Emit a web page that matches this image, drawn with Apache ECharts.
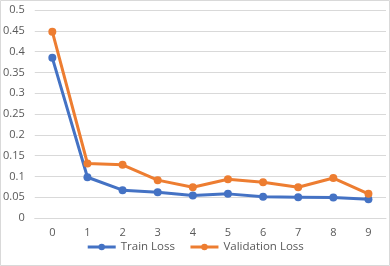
<!DOCTYPE html>
<html><head><meta charset="utf-8">
<script src="https://cdn.jsdelivr.net/npm/echarts@6/dist/echarts.min.js"></script>
<style>html,body{margin:0;padding:0;background:#fff}#c{width:390px;height:266px}</style>
</head><body><div id="c"></div>
<script>
const categories = ['0','1','2','3','4','5','6','7','8','9'];
const trainLoss = [0.385, 0.098, 0.067, 0.062, 0.054, 0.058, 0.051, 0.050, 0.049, 0.045];
const valLoss = [0.448, 0.131, 0.128, 0.091, 0.074, 0.093, 0.086, 0.074, 0.096, 0.058];
const chart = echarts.init(document.getElementById('c'));
const font = 'Open Sans, Liberation Sans, sans-serif';
chart.setOption({
  animation: false,
  graphic: [{type:'rect', shape:{x:0.5,y:0.5,width:389,height:265}, style:{fill:null, stroke:'#d9d9d9', lineWidth:1}}],
  grid: {left: 34, right: 4, top: 10, bottom: 48},
  legend: {
    bottom: 8, left: 'center', itemWidth: 28, itemHeight: 8, itemGap: 14,
    lineStyle: {width: 3},
    textStyle: {color: '#595959', fontSize: 11.5, fontFamily: font},
    data: ['Train Loss', 'Validation Loss']
  },
  xAxis: {
    type: 'category', data: categories, boundaryGap: true,
    axisLine: {lineStyle: {color: '#d9d9d9'}}, axisTick: {show: false},
    axisLabel: {color: '#595959', fontSize: 11, fontFamily: font, margin: 9}
  },
  yAxis: {
    type: 'value', min: 0, max: 0.5, interval: 0.05,
    axisLine: {show: false}, axisTick: {show: false},
    splitLine: {lineStyle: {color: '#d9d9d9'}},
    axisLabel: {color: '#595959', fontSize: 11, fontFamily: font, margin: 10,
      formatter: v => String(Math.round(v*100)/100)}
  },
  series: [
    {name: 'Train Loss', type: 'line', data: trainLoss, symbol: 'circle', symbolSize: 8,
     lineStyle: {width: 3, color: '#4472C4'}, itemStyle: {color: '#4472C4'}},
    {name: 'Validation Loss', type: 'line', data: valLoss, symbol: 'circle', symbolSize: 8,
     lineStyle: {width: 3, color: '#ED7D31'}, itemStyle: {color: '#ED7D31'}}
  ]
});
</script></body></html>
